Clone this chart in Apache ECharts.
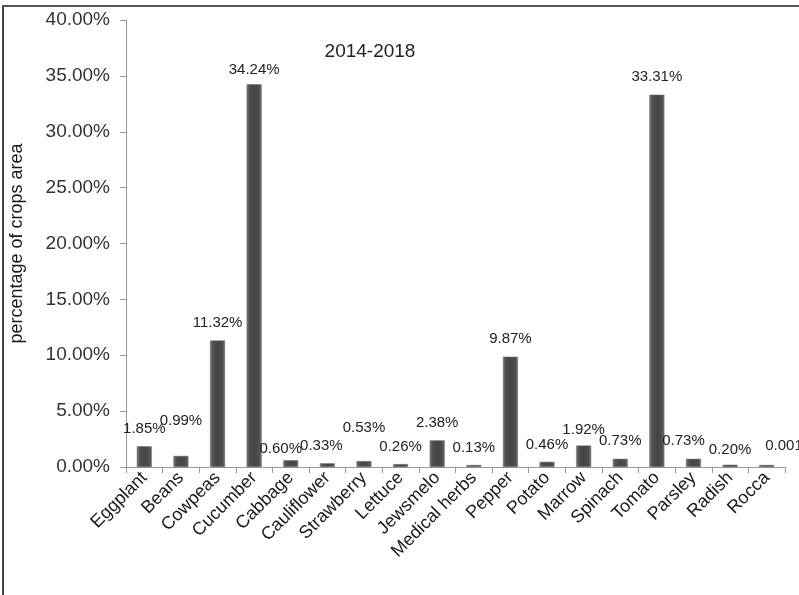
<!DOCTYPE html>
<html>
<head>
<meta charset="utf-8">
<script src="https://cdn.jsdelivr.net/npm/echarts@6/dist/echarts.min.js"></script>
<style>
html,body{margin:0;padding:0;background:#fff;}
#chart{width:799px;height:595px;}
</style>
</head>
<body>
<div id="chart"></div>
<script>
// ---- data ----
var categories = ['Eggplant','Beans','Cowpeas','Cucumber','Cabbage','Cauliflower','Strawberry','Lettuce','Jewsmelo','Medical herbs','Pepper','Potato','Marrow','Spinach','Tomato','Parsley','Radish','Rocca'];
var shares = [1.85, 0.99, 11.32, 34.24, 0.60, 0.33, 0.53, 0.26, 2.38, 0.13, 9.87, 0.46, 1.92, 0.73, 33.31, 0.73, 0.20, 0.001];
var yTicks = [0, 5, 10, 15, 20, 25, 30, 35, 40];
var title = '2014-2018';
var yName = 'percentage of crops area';

// label nudges (style only): [dx, dy]
var labelShift = [[0,0],[0,-18],[0,0],[0,3],[-10,6],[-6,0],[0,-16],[0,0],[0,0],[0,0],[0,0],[0,0],[0,2],[0,0],[0,0],[-10,0],[0,3],[24,-2]];

var chart = echarts.init(document.getElementById('chart'));
var barColor = new echarts.graphic.LinearGradient(0,0,1,0,[
  {offset:0,color:'#7e7e7e'},
  {offset:0.18,color:'#505050'},
  {offset:0.5,color:'#454545'},
  {offset:0.82,color:'#4d4d4d'},
  {offset:1,color:'#727272'}
]);
var seriesData = shares.map(function(v,i){
  return {value:v, label:{offset:labelShift[i]}};
});
function fmt(v){ return (v < 0.01 ? v.toFixed(3) : v.toFixed(2)) + '%'; }

chart.setOption({
  animation:false,
  backgroundColor:'#fff',
  title:{
    text:title, left:365, top:37, textAlign:'center',
    textStyle:{fontFamily:'Liberation Sans, Arial', fontSize:19, fontWeight:'normal', color:'#222'}
  },
  grid:{left:124, right:14, top:20, bottom:128, containLabel:false},
  xAxis:{
    type:'category', data:categories,
    axisLine:{lineStyle:{color:'#999', width:1}},
    axisTick:{show:true, alignWithLabel:false, length:6, lineStyle:{color:'#999'}},
    axisLabel:{rotate:45, interval:0, margin:8, color:'#1a1a1a', fontSize:18, fontFamily:'Liberation Sans, Arial'}
  },
  yAxis:{
    type:'value', min:yTicks[0], max:yTicks[yTicks.length-1], interval:yTicks[1]-yTicks[0],
    name:yName, nameLocation:'middle', nameGap:100, nameRotate:90,
    nameTextStyle:{fontFamily:'Liberation Sans, Arial', fontSize:18, color:'#1a1a1a'},
    axisLine:{show:true, lineStyle:{color:'#999', width:1}},
    axisTick:{show:true, length:6, lineStyle:{color:'#999'}},
    splitLine:{show:false},
    axisLabel:{formatter:function(v){return v.toFixed(2)+'%';}, color:'#333', fontSize:19, margin:16, fontFamily:'Liberation Sans, Arial'}
  },
  series:[{
    type:'bar', data:seriesData, barWidth:15, barMinHeight:2,
    itemStyle:{color:barColor, borderColor:'#666', borderWidth:0.5},
    label:{show:true, position:'top', distance:10, formatter:function(p){return fmt(p.value);},
      fontFamily:'Liberation Sans, Arial', fontSize:15, color:'#222'}
  }],
  graphic:[
    {type:'line', shape:{x1:3, y1:6, x2:3, y2:595}, style:{stroke:'#444', lineWidth:2}},
    {type:'line', shape:{x1:2, y1:6, x2:799, y2:6}, style:{stroke:'#555', lineWidth:2}}
  ]
});
</script>
</body>
</html>
